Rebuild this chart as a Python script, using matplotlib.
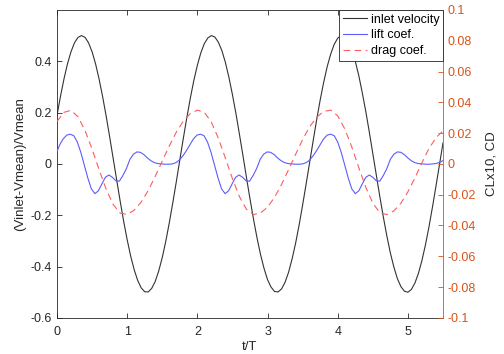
import matplotlib
matplotlib.use("Agg")
import matplotlib.pyplot as plt

plt.rcParams['font.family'] = ['Liberation Sans', 'DejaVu Sans']

# time (t/T) for inlet velocity
t_velocity = [0.00, 0.05, 0.10, 0.15, 0.20, 0.25, 0.30, 0.35, 0.40, 0.45,
              0.50, 0.55, 0.60, 0.65, 0.70, 0.75, 0.80, 0.85, 0.90, 0.95,
              1.00, 1.05, 1.10, 1.15, 1.20, 1.25, 1.30, 1.35, 1.40, 1.45,
              1.50, 1.55, 1.60, 1.65, 1.70, 1.75, 1.80, 1.85, 1.90, 1.95,
              2.00, 2.05, 2.10, 2.15, 2.20, 2.25, 2.30, 2.35, 2.40, 2.45,
              2.50, 2.55, 2.60, 2.65, 2.70, 2.75, 2.80, 2.85, 2.90, 2.95,
              3.00, 3.05, 3.10, 3.15, 3.20, 3.25, 3.30, 3.35, 3.40, 3.45,
              3.50, 3.55, 3.60, 3.65, 3.70, 3.75, 3.80, 3.85, 3.90, 3.95,
              4.00, 4.05, 4.10, 4.15, 4.20, 4.25, 4.30, 4.35, 4.40, 4.45,
              4.50, 4.55, 4.60, 4.65, 4.70, 4.75, 4.80, 4.85, 4.90, 4.95,
              5.00, 5.05, 5.10, 5.15, 5.20, 5.25, 5.30, 5.35, 5.40, 5.45,
              5.50]

# (Vinlet - Vmean)/Vmean  (left axis)
inlet_velocity = [0.188, 0.263, 0.331, 0.390, 0.437, 0.472, 0.493, 0.500, 0.493, 0.472,
                  0.437, 0.390, 0.331, 0.263, 0.188, 0.107, 0.023, -0.061, -0.144, -0.223,
                  -0.295, -0.359, -0.412, -0.454, -0.483, -0.498, -0.499, -0.485, -0.458, -0.417,
                  -0.365, -0.302, -0.230, -0.152, -0.070, 0.015, 0.099, 0.180, 0.256, 0.325,
                  0.384, 0.433, 0.469, 0.491, 0.500, 0.494, 0.474, 0.441, 0.395, 0.337,
                  0.270, 0.196, 0.115, 0.032, -0.053, -0.136, -0.215, -0.288, -0.353, -0.407,
                  -0.451, -0.480, -0.497, -0.499, -0.487, -0.461, -0.422, -0.370, -0.309, -0.238,
                  -0.160, -0.078, 0.006, 0.090, 0.172, 0.249, 0.318, 0.379, 0.428, 0.466,
                  0.490, 0.500, 0.495, 0.477, 0.445, 0.400, 0.344, 0.277, 0.204, 0.124,
                  0.040, -0.044, -0.128, -0.207, -0.281, -0.347, -0.402, -0.447, -0.478, -0.496,
                  -0.500, -0.489, -0.464, -0.426, -0.376, -0.315, -0.245, -0.168, -0.086, -0.002,
                  0.082]

# time (t/T) for drag coefficient
t_drag = [0.0, 0.1, 0.2, 0.3, 0.4, 0.5, 0.6, 0.7, 0.8, 0.9,
          1.0, 1.1, 1.2, 1.3, 1.4, 1.5, 1.6, 1.7, 1.8, 1.9,
          2.0, 2.1, 2.2, 2.3, 2.4, 2.5, 2.6, 2.7, 2.8, 2.9,
          3.0, 3.1, 3.2, 3.3, 3.4, 3.5, 3.6, 3.7, 3.8, 3.9,
          4.0, 4.1, 4.2, 4.3, 4.4, 4.5, 4.6, 4.7, 4.8, 4.9,
          5.0, 5.1, 5.2, 5.3, 5.4, 5.5]

# drag coefficient CD (right axis)
drag_coef = [0.0275, 0.0335, 0.0348, 0.0306, 0.0217, 0.0097, -0.0037, -0.0164, -0.0263, -0.0320,
             -0.0328, -0.0301, -0.0248, -0.0173, -0.0081, 0.0018, 0.0116, 0.0206, 0.0278, 0.0327,
             0.0349, 0.0335, 0.0271, 0.0166, 0.0037, -0.0096, -0.0213, -0.0295, -0.0329, -0.0319,
             -0.0281, -0.0217, -0.0133, -0.0037, 0.0062, 0.0158, 0.0241, 0.0303, 0.0341, 0.0349,
             0.0312, 0.0228, 0.0110, -0.0024, -0.0152, -0.0255, -0.0317, -0.0329, -0.0305, -0.0255,
             -0.0181, -0.0091, 0.0008, 0.0100, 0.0170, 0.0215]

# time for lift coefficient
t_lift = [0.00, 0.04, 0.09, 0.14, 0.19, 0.24, 0.29, 0.34, 0.39, 0.44,
          0.49, 0.54, 0.59, 0.64, 0.69, 0.74, 0.79, 0.84, 0.89, 0.94,
          0.99, 1.04, 1.09, 1.14, 1.19, 1.24, 1.29, 1.34, 1.39, 1.44,
          1.49, 1.54, 1.59,
          1.645, 1.695, 1.745, 1.795, 1.845, 1.895, 1.945, 1.995, 2.045, 2.095,
          2.145, 2.195, 2.245, 2.295, 2.345, 2.395, 2.445, 2.495, 2.545, 2.595,
          2.645, 2.695, 2.745, 2.795, 2.845, 2.895, 2.945, 2.995, 3.045, 3.095,
          3.145, 3.195, 3.245, 3.295, 3.345, 3.395, 3.445,
          3.50, 3.55, 3.60, 3.65, 3.70, 3.75, 3.80, 3.85, 3.90, 3.95,
          4.00, 4.05, 4.10, 4.15, 4.20, 4.25, 4.30, 4.35, 4.40, 4.45,
          4.50, 4.55, 4.60, 4.65, 4.70, 4.75, 4.80, 4.85, 4.90, 4.95,
          5.00, 5.05, 5.10, 5.15, 5.20, 5.25, 5.30,
          5.355, 5.405, 5.455, 5.50]

# lift coefficient x10 (right axis)
lift_coef_x10 = [0.0080, 0.0125, 0.0163, 0.0187, 0.0193, 0.0183, 0.0142, 0.0075, -0.0008, -0.0092,
                 -0.0162, -0.0193, -0.0175, -0.0130, -0.0087, -0.0072, -0.0087, -0.0110, -0.0112, -0.0075,
                 -0.0030, 0.0030, 0.0063, 0.0078, 0.0075, 0.0060, 0.0038, 0.0020, 0.0008, 0.0002,
                 0.0000, -0.0002, -0.0002,
                 0.0000, 0.0008, 0.0025, 0.0053, 0.0087, 0.0125, 0.0163, 0.0187, 0.0193, 0.0183,
                 0.0142, 0.0075, -0.0008, -0.0092, -0.0162, -0.0193, -0.0175, -0.0130, -0.0087, -0.0072,
                 -0.0087, -0.0110, -0.0112, -0.0075, -0.0030, 0.0030, 0.0063, 0.0078, 0.0075, 0.0060,
                 0.0038, 0.0020, 0.0008, 0.0002, 0.0000, -0.0002, -0.0002,
                 0.0000, 0.0008, 0.0025, 0.0053, 0.0087, 0.0125, 0.0163, 0.0187, 0.0193, 0.0183,
                 0.0142, 0.0075, -0.0008, -0.0092, -0.0162, -0.0193, -0.0175, -0.0130, -0.0087, -0.0072,
                 -0.0087, -0.0110, -0.0112, -0.0075, -0.0030, 0.0030, 0.0063, 0.0078, 0.0075, 0.0060,
                 0.0038, 0.0020, 0.0008, 0.0002, 0.0000, -0.0002, -0.0002,
                 0.0000, 0.0003, 0.0010, 0.0022]

x_ticks = [0, 1, 2, 3, 4, 5]
left_ticks = [-0.6, -0.4, -0.2, 0, 0.2, 0.4]
left_ticklabels = ['-0.6', '-0.4', '-0.2', '0', '0.2', '0.4']
right_ticks = [-0.1, -0.08, -0.06, -0.04, -0.02, 0, 0.02, 0.04, 0.06, 0.08, 0.1]
right_ticklabels = ['-0.1', '-0.08', '-0.06', '-0.04', '-0.02', '0', '0.02', '0.04', '0.06', '0.08', '0.1']

orange = '#d95319'
axis_gray = '#262626'

fig = plt.figure(figsize=(5.04, 3.54), dpi=100)
ax = fig.add_axes([0.113, 0.102, 0.766, 0.870])
ax2 = ax.twinx()

l1, = ax.plot(t_velocity, inlet_velocity, color='#333333', lw=0.8)
l2, = ax2.plot(t_lift, lift_coef_x10, color='#5c5cff', lw=0.8)
l3, = ax2.plot(t_drag, drag_coef, color='#ff5c5c', lw=0.8, dashes=(6, 4))

ax.set_xlim(0, 5.5)
ax.set_ylim(-0.6, 0.6)
ax2.set_ylim(-0.1, 0.1)

ax.set_xticks(x_ticks)
ax.set_xticklabels([str(v) for v in x_ticks])
ax.set_yticks(left_ticks)
ax.set_yticklabels(left_ticklabels)
ax2.set_yticks(right_ticks)
ax2.set_yticklabels(right_ticklabels)

ax.tick_params(axis='x', direction='in', top=True, length=3.5, width=0.6,
               colors=axis_gray, labelsize=9, pad=6)
ax.tick_params(axis='y', direction='in', length=3.5, width=0.6,
               colors=axis_gray, labelsize=9, pad=4)
ax2.tick_params(axis='y', direction='in', length=3.5, width=0.6,
                colors=orange, labelsize=9, pad=3)

for s in ['left', 'bottom', 'top']:
    ax.spines[s].set_color(axis_gray)
    ax.spines[s].set_linewidth(0.6)
ax.spines['right'].set_visible(False)
for s in ['left', 'bottom', 'top']:
    ax2.spines[s].set_visible(False)
ax2.spines['right'].set_color(orange)
ax2.spines['right'].set_linewidth(0.6)

ax.set_xlabel('t/T', fontsize=9.5, color=axis_gray, labelpad=2)
ax.set_ylabel('(Vinlet-Vmean)/Vmean', fontsize=9.5, color=axis_gray, labelpad=3)
ax2.set_ylabel('CLx10, CD', fontsize=9.5, color=axis_gray, labelpad=7)

leg = ax2.legend([l1, l2, l3], ['inlet velocity', 'lift coef.', 'drag coef.'],
                 loc='upper right', borderaxespad=0, fontsize=9, fancybox=False,
                 framealpha=1, edgecolor=axis_gray, handlelength=1.9,
                 handletextpad=0.3, labelspacing=0.3, borderpad=0.3)
leg.get_frame().set_linewidth(0.6)

fig.savefig('out.png', dpi=100)
